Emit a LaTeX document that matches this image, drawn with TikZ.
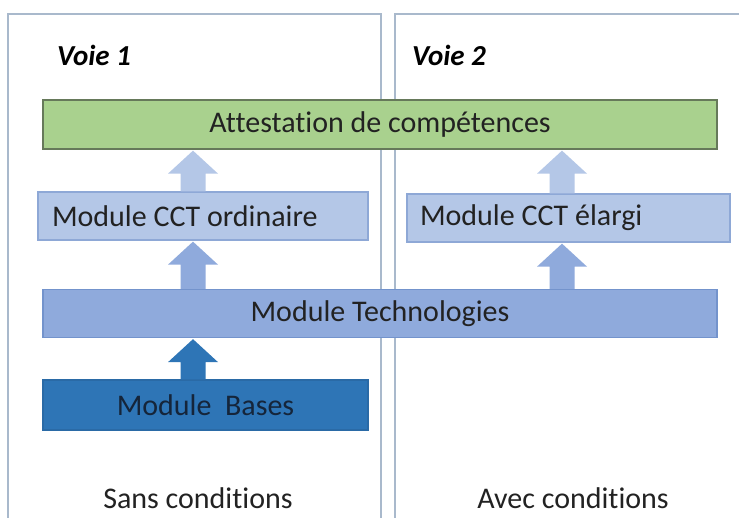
\documentclass[tikz,border=0pt]{standalone}
\usepackage{fontspec}
\setmainfont{Carlito}[Ligatures=NoCommon]
\usetikzlibrary{calc}
\definecolor{panelc}{HTML}{A9B9CC}
\definecolor{greenf}{HTML}{A9D18E}
\definecolor{greend}{HTML}{66795A}
\definecolor{lightf}{HTML}{B4C7E7}
\definecolor{lightd}{HTML}{8EA8D6}
\definecolor{midf}{HTML}{8FAADC}
\definecolor{midd}{HTML}{7393CC}
\definecolor{darkf}{HTML}{2E75B6}
\definecolor{darkd}{HTML}{2A6AA6}
\definecolor{txt}{HTML}{222222}
\definecolor{txtb}{HTML}{15253A}
\newcommand\blockup[4]{%
  \fill[#1] ($(#2 |- #3.north)+(-12.5,0)$) -- ($(#2 |- #4.south)+(-12.5,24)$) -- ($(#2 |- #4.south)+(-25,24)$) -- ($(#2 |- #4.south)+(0,1)$) -- ($(#2 |- #4.south)+(25,24)$) -- ($(#2 |- #4.south)+(12.5,24)$) -- ($(#2 |- #3.north)+(12.5,0)$) -- cycle;}
\begin{document}
\begin{tikzpicture}[x=1pt,y=-1pt,
  panel/.style={draw=panelc,line width=1.6pt},
  boxbase/.style={line width=1.3pt,minimum height=48pt,inner sep=0pt,text=txt,font=\fontsize{30}{34}\selectfont},
  greenbox/.style={boxbase,fill=greenf,draw=greend},
  lightbox/.style={boxbase,fill=lightf,draw=lightd},
  midbox/.style={boxbase,fill=midf,draw=midd},
  darkbox/.style={boxbase,fill=darkf,draw=darkd,text=txtb},
  voie/.style={font=\fontsize{29}{32}\selectfont\bfseries\itshape,text=black,inner sep=0pt,anchor=west},
  cond/.style={font=\fontsize{30}{34}\selectfont,text=txt,inner sep=0pt,anchor=base}]
\useasboundingbox (0,0) rectangle (739,518);
\clip (0,0) rectangle (739,518);
\fill[white] (0,0) rectangle (739,518);
% panels
\draw[panel] (8,520) -- (8,14) -- (381,14) -- (381,520);
\draw[panel] (395,520) -- (395,14) -- (745,14);
% titles
\node[voie] (v1) at (57,55) {Voie 1};
\node[voie] (v2) at (412,55) {Voie 2};
% boxes
\node[greenbox,minimum width=674pt,minimum height=49pt] (att) at (380,124.5) {Attestation de compétences};
\node[lightbox,minimum width=330pt] (cct1) at (203,216) {\makebox[302pt][l]{Module CCT ordinaire}};
\node[lightbox,minimum width=323pt] (cct2) at (568.5,218) {\makebox[297pt][l]{Module CCT élargi}};
\node[midbox,minimum width=674pt] (tech) at (380,313.5) {Module Technologies};
\node[darkbox,minimum width=325pt,minimum height=50pt] (base) at (205.5,405) {Module\ \ Bases};
% bottom labels
\node[cond] (c1) at (198,508) {Sans conditions};
\node[cond] (c2) at (573,508) {Avec conditions};
% arrows
\coordinate (xl) at (193,0);
\coordinate (xr) at (562,0);
\blockup{lightf}{xl}{cct1}{att}
\blockup{lightf}{xr}{cct2}{att}
\blockup{midf}{xl}{tech}{cct1}
\blockup{midf}{xr}{tech}{cct2}
\blockup{darkf}{xl}{base}{tech}
\end{tikzpicture}
\end{document}
